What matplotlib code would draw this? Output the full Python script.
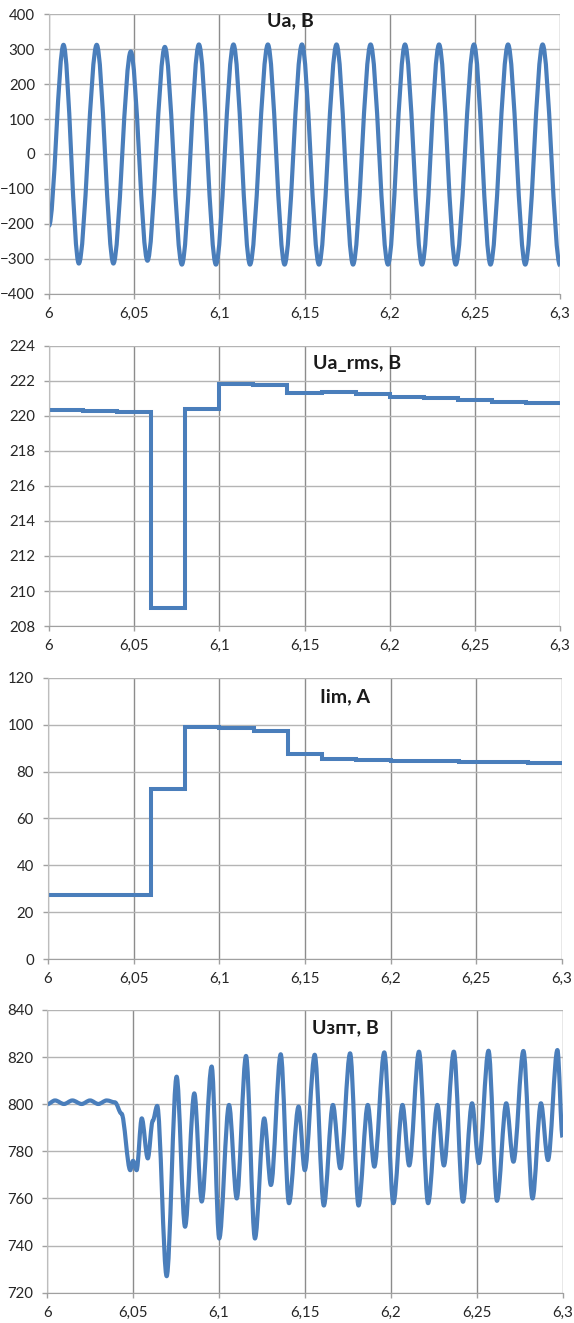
import matplotlib
matplotlib.use('Agg')
import matplotlib.pyplot as plt
from matplotlib.path import Path
from matplotlib.patches import PathPatch
from matplotlib.ticker import FuncFormatter, MultipleLocator
import numpy as np

plt.rcParams['font.family'] = ['Lato', 'DejaVu Sans']

# Ua, B: extrema of the phase voltage (time, value)
ua_t = [6.0, 6.0085, 6.0175, 6.028, 6.0378, 6.048, 6.0578, 6.068, 6.078, 6.088,
        6.098, 6.1083, 6.118, 6.1285, 6.1383, 6.1485, 6.1585, 6.1688, 6.1785,
        6.1888, 6.199, 6.209, 6.219, 6.229, 6.2388, 6.2495, 6.2592, 6.2695,
        6.2796, 6.2898, 6.3]
ua_v = [-205, 312, -313, 312, -313, 293, -305, 306, -316, 313,
        -316, 313, -316, 313, -316, 313, -316, 313, -316,
        313, -316, 313, -316, 313, -316, 313, -316, 313,
        -316, 313, -318]

# Ua_rms, B: one value per 20 ms window
rms_t = [6.0, 6.02, 6.04, 6.06, 6.08, 6.10, 6.12, 6.14, 6.16, 6.18, 6.20, 6.22,
         6.24, 6.26, 6.28, 6.30]
rms_v = [220.33, 220.27, 220.21, 209.05, 220.37, 221.81, 221.74, 221.28, 221.37,
         221.24, 221.09, 221.01, 220.90, 220.80, 220.75, 220.75]

# Iim, A: one value per 20 ms window
iim_t = rms_t
iim_v = [27.5, 27.5, 27.5, 72.6, 99.1, 98.7, 97.4, 87.3, 85.5, 84.9, 84.6, 84.6,
         84.2, 84.2, 83.6, 83.6]

# Uзпт, B: extrema of the DC link voltage (time, value)
udc_t = [6.0, 6.0045, 6.0097, 6.0146, 6.02, 6.0249, 6.0297, 6.0346, 6.0394,
         6.0432, 6.0483, 6.0499, 6.052, 6.055, 6.0585, 6.0614, 6.064, 6.0695,
         6.0753, 6.0802, 6.0856, 6.0899, 6.0957, 6.1001, 6.1058, 6.1103, 6.1157,
         6.1209, 6.1263, 6.1302, 6.1359, 6.1407, 6.1463, 6.1499, 6.1557, 6.161,
         6.1663, 6.1706, 6.1763, 6.1812, 6.1866, 6.1904, 6.1962, 6.2015, 6.2068,
         6.2107, 6.2164, 6.2217, 6.2271, 6.2309, 6.2367, 6.242, 6.2473, 6.2512,
         6.2569, 6.2618, 6.2672, 6.2714, 6.2772, 6.2825, 6.2874, 6.2915, 6.297,
         6.3]
udc_v = [800, 801.6, 800.1, 801.6, 800.1, 801.6, 800.1, 801.6, 800.8,
         796, 772, 776, 772, 794, 777, 793, 799.3, 727,
         811.7, 748, 804.6, 758.7, 816, 743, 799.7, 760, 820.5,
         743, 794, 765.7, 821.2, 758, 799, 772, 821, 757,
         799.7, 772.8, 821.6, 757, 799.7, 773.5, 822, 758, 799.7,
         774, 822.3, 758, 799.7, 774, 822.3, 758.6, 800.4, 775,
         822.7, 759, 800.4, 775.6, 822.6, 760, 800.4, 776.3, 823,
         786]

blue = '#4a7ebb'


def smooth_path(t, v):
    # cubic segments with flat tangents at each extremum
    verts = [(t[0], v[0])]
    codes = [Path.MOVETO]
    for i in range(len(t) - 1):
        dt = t[i + 1] - t[i]
        verts += [(t[i] + dt / 3, v[i]), (t[i + 1] - dt / 3, v[i + 1]), (t[i + 1], v[i + 1])]
        codes += [Path.CURVE4] * 3
    return Path(verts, codes)


def style_axes(ax, ylim, ystep):
    ax.set_xlim(6.0, 6.3)
    ax.set_ylim(*ylim)
    ax.xaxis.set_major_locator(MultipleLocator(0.05))
    ax.yaxis.set_major_locator(MultipleLocator(ystep))
    ax.xaxis.set_major_formatter(FuncFormatter(lambda x, p: ('%.2f' % x).rstrip('0').rstrip('.').replace('.', ',')))
    ax.xaxis.grid(True, color='#8c8c8c', lw=1.0)
    ax.yaxis.grid(True, color='#b4b4b4', lw=1.0)
    ax.set_axisbelow(True)
    for s in ['top', 'right']:
        ax.spines[s].set_visible(False)
    ax.spines['left'].set_color('#bdbdbd')
    ax.spines['bottom'].set_color('#a0a0a0')
    ax.tick_params(axis='both', length=3.6, width=1.0, color='#a0a0a0',
                   labelsize=10.8, labelcolor='#262626')
    ax.tick_params(axis='x', pad=6)
    ax.tick_params(axis='y', pad=6.5)


fig = plt.figure(figsize=(5.74, 13.23), dpi=100)
title_kw = dict(ha='center', va='center', fontsize=14, fontweight='bold', color='#1a1a1a')

ax1 = fig.add_axes([0.0854, 0.7778, 0.8902, 0.2116])
style_axes(ax1, (-400, 400), 100)
ax1.add_patch(PathPatch(smooth_path(ua_t, ua_v), fill=False, edgecolor=blue, lw=3.0, joinstyle='round'))
ax1.text(6.1415, 381, 'Ua, B', **title_kw)

ax2 = fig.add_axes([0.0854, 0.5268, 0.8902, 0.2119])
style_axes(ax2, (208, 224), 2)
ax2.plot(rms_t, rms_v, drawstyle='steps-post', color=blue, lw=2.9, solid_joinstyle='miter')
ax2.text(6.1808, 223.0, 'Ua_rms, B', **title_kw)

ax3 = fig.add_axes([0.0836, 0.2751, 0.8955, 0.2126])
style_axes(ax3, (0, 120), 20)
ax3.plot(iim_t, iim_v, drawstyle='steps-post', color=blue, lw=2.9, solid_joinstyle='miter')
ax3.text(6.1733, 111.8, 'Iim, A', **title_kw)

ax4 = fig.add_axes([0.0824, 0.0229, 0.8977, 0.2137])
style_axes(ax4, (720, 840), 20)
ax4.add_patch(PathPatch(smooth_path(udc_t, udc_v), fill=False, edgecolor=blue, lw=3.0, joinstyle='round'))
ax4.text(6.1733, 832.4, 'Uзпт, B', **title_kw)

fig.savefig('out.png', dpi=100)
